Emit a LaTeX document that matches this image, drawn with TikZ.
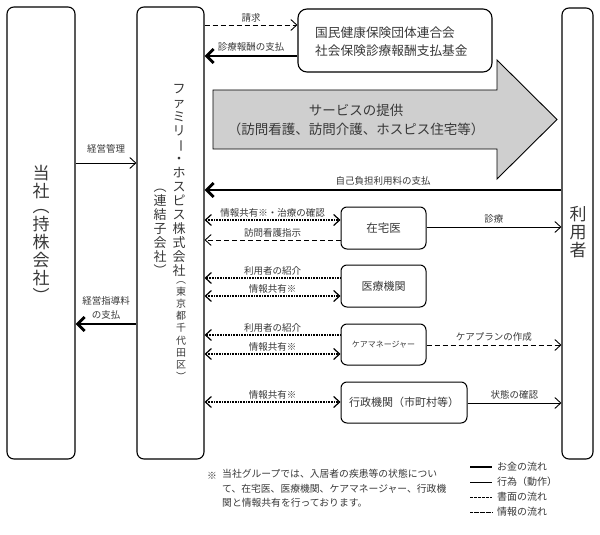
\documentclass[tikz,border=0pt]{standalone}
\usepackage{fontspec}
\setmainfont{Noto Sans CJK JP}
\usetikzlibrary{arrows.meta}
\newcommand\fsz[2]{\fontsize{#1}{#2}\selectfont}
\newcommand\vbar{\rotatebox[origin=c]{-90}{ー}}
\definecolor{txt}{gray}{0.22}
\begin{document}
\begin{tikzpicture}[x=1pt,y=-1pt,
  every node/.style={text=txt},
  box/.style={draw, line width=1.1pt, rounded corners=7pt, inner sep=0pt},
  sbox/.style={draw, line width=1pt, rounded corners=6pt, inner sep=0pt},
  lbl/.style={font=\fsz{9.5}{11}, inner sep=1pt},
  tipb/.tip={Straight Barb[length=6pt,width=11pt]},
  tipk/.tip={Straight Barb[length=7pt,width=14pt]},
  money/.style={line width=2.8pt, -tipk},
  act/.style={line width=0.9pt, -tipb},
  doc/.style={line width=0.9pt, dash pattern=on 5pt off 3pt, -tipb},
  info/.style={line width=1.2pt, dash pattern=on 0.8pt off 0.8pt, -tipb},
  infob/.style={line width=1.2pt, dash pattern=on 0.8pt off 0.8pt, tipb-tipb},
]
\useasboundingbox (0,0) rectangle (600,535);

% main columns
\node[box, minimum width=68pt, minimum height=452pt] (hold) at (41,233) {};
\node[box, minimum width=67pt, minimum height=452pt] (fam) at (170.5,233) {};
\node[box, minimum width=31pt, minimum height=451pt] (user) at (577.5,233.5) {};

\node[font=\fsz{17}{18}, align=center, inner sep=0pt] (holdtxt) at (41,234)
  {当\\社\\[-3pt]︵\\持\\株\\会\\社\\︶};
\node[font=\fsz{13}{14}, align=center, inner sep=0pt] (famtxt) at (179,180)
  {フ\\ァ\\ミ\\リ\\\vbar\\・\\ホ\\ス\\ピ\\ス\\株\\式\\会\\社};
\node[font=\fsz{13}{14}, align=center, inner sep=0pt] (famsub) at (160,232)
  {︵\\連\\結\\子\\会\\社\\︶};
\node[font=\fsz{10}{12.2}, align=center, inner sep=0pt] (famloc) at (181,331)
  {︵\\東\\京\\都\\千\\代\\田\\区\\︶};
\node[font=\fsz{17}{18}, align=center, inner sep=0pt] (usertxt) at (578,232)
  {利\\用\\者};

% top box
\node[box, rounded corners=9pt, minimum width=194pt, minimum height=63pt] (kokuho) at (395,40.5) {};
\node[font=\fsz{12.7}{18}, align=left, anchor=west, inner sep=0pt] (kokuhotxt) at (315,42)
  {国民健康保険団体連合会\\社会保険診療報酬支払基金};

% big service arrow
\draw[line width=0.9pt, fill=gray!38] (213,90) -- (497,90) -- (497,60) -- (557,119.5)
  -- (497,179) -- (497,149) -- (213,149) -- cycle;
\node[font=\fsz{13.5}{19}, align=center] (svc) at (356,120)
  {サービスの提供\\（訪問看護、訪問介護、ホスピス住宅等）};

% partner boxes
\node[sbox, minimum width=85pt, minimum height=42pt, font=\fsz{11.5}{12}] (zaitaku) at (383.5,228) {在宅医};
\node[sbox, minimum width=85pt, minimum height=42pt, font=\fsz{11}{12}] (iryo) at (383.5,286) {医療機関};
\node[sbox, minimum width=85pt, minimum height=41pt, font=\fsz{8}{9}] (care) at (383.5,344.5) {ケアマネージャー};
\node[sbox, minimum width=126pt, minimum height=41pt, font=\fsz{11}{12}] (gyosei) at (404,402.5) {行政機関（市町村等）};

% connectors
\draw[doc] (fam.east |- 0,25) -- (kokuho.west |- 0,25) node[lbl, midway, above=1pt] {請求};
\draw[money] (kokuho.west |- 0,56) -- (fam.east |- 0,56) node[lbl, midway, above=2.5pt] {診療報酬の支払};
\draw[act] (hold.east |- 0,163) -- (fam.west |- 0,163) node[lbl, midway, above=8pt] {経営管理};
\draw[money] (fam.west |- 0,324) -- (hold.east |- 0,324) node[lbl, midway, above=2pt, align=center, font=\fsz{9.5}{14}] {経営指導料\\の支払};
\draw[money] (user.west |- 0,190) -- (fam.east |- 0,190) node[lbl, midway, above=2pt] {自己負担利用料の支払};

\draw[infob] (fam.east |- 0,220) -- (zaitaku.west |- 0,220) node[lbl, midway, above=1pt] {情報共有※・治療の確認};
\draw[doc] (zaitaku.west |- 0,240) -- (fam.east |- 0,240) node[lbl, midway, above=1pt] {訪問看護指示};
\draw[act] (zaitaku.east |- 0,227) -- (user.west |- 0,227) node[lbl, midway, above=2pt] {診療};

\draw[info] (iryo.west |- 0,278) -- (fam.east |- 0,278) node[lbl, midway, above=1pt] {利用者の紹介};
\draw[infob] (fam.east |- 0,296) -- (iryo.west |- 0,296) node[lbl, midway, above=1pt] {情報共有※};

\draw[info] (care.west |- 0,335) -- (fam.east |- 0,335) node[lbl, midway, above=1pt] {利用者の紹介};
\draw[infob] (fam.east |- 0,354) -- (care.west |- 0,354) node[lbl, midway, above=1pt] {情報共有※};
\draw[doc] (care.east |- 0,345) -- (user.west |- 0,345) node[lbl, midway, above=2pt] {ケアプランの作成};

\draw[infob] (fam.east |- 0,402) -- (gyosei.west |- 0,402) node[lbl, midway, above=1pt] {情報共有※};
\draw[act] (gyosei.east |- 0,403) -- (user.west |- 0,403) node[lbl, midway, above=2pt] {状態の確認};

% note
\node[font=\fsz{9.8}{14.5}, anchor=west, inner sep=0pt] (mark) at (207,476) {※};
\node[font=\fsz{9.8}{14.5}, align=left, anchor=north west, inner sep=0pt] (note) at (222,469.5)
  {当社グループでは、入居者の疾患等の状態につい\\て、在宅医、医療機関、ケアマネージャー、行政機\\関と情報共有を行っております。};

% legend
\node[font=\fsz{10}{12}, anchor=west, inner sep=0pt] (lg1) at (497,467) {お金の流れ};
\node[font=\fsz{10}{12}, anchor=west, inner sep=0pt] (lg2) at (497,482) {行為（動作）};
\node[font=\fsz{10}{12}, anchor=west, inner sep=0pt] (lg3) at (497,497) {書面の流れ};
\node[font=\fsz{10}{12}, anchor=west, inner sep=0pt] (lg4) at (497,512) {情報の流れ};
\draw[line width=2.8pt] ([xshift=-27pt]lg1.west) -- ([xshift=-5pt]lg1.west);
\draw[line width=0.8pt] ([xshift=-27pt]lg2.west) -- ([xshift=-5pt]lg2.west);
\draw[line width=0.8pt, dash pattern=on 2.5pt off 1.5pt] ([xshift=-27pt]lg3.west) -- ([xshift=-5pt]lg3.west);
\draw[line width=0.8pt, dash pattern=on 0.6pt off 0.6pt] ([xshift=-27pt]lg4.west) -- ([xshift=-5pt]lg4.west);
\end{tikzpicture}
\end{document}
